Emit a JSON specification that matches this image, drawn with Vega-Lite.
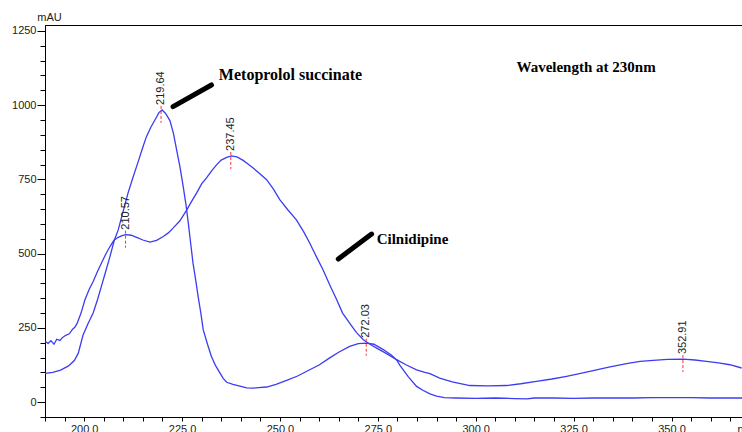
{
  "$schema": "https://vega.github.io/schema/vega-lite/v6.json",
  "autosize": {"type": "none"},
  "padding": {"left": 45, "top": 25, "right": 0, "bottom": 15},
  "width": 697,
  "height": 392,
  "background": "white",
  "config": {
    "view": {"stroke": "black", "strokeWidth": 1},
    "axis": {"grid": false, "domainColor": "black", "tickColor": "black", "labelFont": "Liberation Sans", "labelFontSize": 11, "labelColor": "#222", "titleFont": "Liberation Sans", "titleFontSize": 11, "titleFontWeight": "normal", "titleColor": "#222"}
  },
  "datasets": {
    "curves": [
      {"wl": 190, "v": 97, "s": "Metoprolol"}, {"wl": 192, "v": 100, "s": "Metoprolol"}, {"wl": 194, "v": 108, "s": "Metoprolol"}, {"wl": 196, "v": 122, "s": "Metoprolol"}, {"wl": 197.5, "v": 140, "s": "Metoprolol"}, {"wl": 198.5, "v": 165, "s": "Metoprolol"}, {"wl": 199.7, "v": 225, "s": "Metoprolol"}, {"wl": 201, "v": 265, "s": "Metoprolol"}, {"wl": 202.3, "v": 300, "s": "Metoprolol"}, {"wl": 203.4, "v": 345, "s": "Metoprolol"}, {"wl": 204.4, "v": 390, "s": "Metoprolol"}, {"wl": 205.5, "v": 440, "s": "Metoprolol"}, {"wl": 206.6, "v": 491, "s": "Metoprolol"}, {"wl": 207.7, "v": 545, "s": "Metoprolol"}, {"wl": 208.7, "v": 580, "s": "Metoprolol"}, {"wl": 210, "v": 645, "s": "Metoprolol"}, {"wl": 211.2, "v": 704, "s": "Metoprolol"}, {"wl": 212.5, "v": 758, "s": "Metoprolol"}, {"wl": 213.8, "v": 810, "s": "Metoprolol"}, {"wl": 214.9, "v": 855, "s": "Metoprolol"}, {"wl": 215.9, "v": 894, "s": "Metoprolol"}, {"wl": 217, "v": 925, "s": "Metoprolol"}, {"wl": 218.1, "v": 951, "s": "Metoprolol"}, {"wl": 219.1, "v": 975, "s": "Metoprolol"}, {"wl": 219.9, "v": 984, "s": "Metoprolol"}, {"wl": 220.8, "v": 972, "s": "Metoprolol"}, {"wl": 221.9, "v": 948, "s": "Metoprolol"}, {"wl": 222.8, "v": 905, "s": "Metoprolol"}, {"wl": 223.6, "v": 850, "s": "Metoprolol"}, {"wl": 224.5, "v": 790, "s": "Metoprolol"}, {"wl": 225.3, "v": 726, "s": "Metoprolol"}, {"wl": 226, "v": 665, "s": "Metoprolol"}, {"wl": 226.6, "v": 603, "s": "Metoprolol"}, {"wl": 227.2, "v": 535, "s": "Metoprolol"}, {"wl": 227.8, "v": 468, "s": "Metoprolol"}, {"wl": 228.5, "v": 410, "s": "Metoprolol"}, {"wl": 229.1, "v": 356, "s": "Metoprolol"}, {"wl": 229.8, "v": 300, "s": "Metoprolol"}, {"wl": 230.4, "v": 244, "s": "Metoprolol"}, {"wl": 231.5, "v": 195, "s": "Metoprolol"}, {"wl": 232.5, "v": 154, "s": "Metoprolol"}, {"wl": 233.6, "v": 122, "s": "Metoprolol"}, {"wl": 234.7, "v": 98, "s": "Metoprolol"}, {"wl": 235.5, "v": 80, "s": "Metoprolol"}, {"wl": 236.4, "v": 67, "s": "Metoprolol"}, {"wl": 238, "v": 60, "s": "Metoprolol"}, {"wl": 239.5, "v": 55, "s": "Metoprolol"}, {"wl": 241.5, "v": 48, "s": "Metoprolol"}, {"wl": 243, "v": 47, "s": "Metoprolol"}, {"wl": 244.5, "v": 49, "s": "Metoprolol"}, {"wl": 246.6, "v": 51, "s": "Metoprolol"}, {"wl": 249, "v": 60, "s": "Metoprolol"}, {"wl": 251.7, "v": 73, "s": "Metoprolol"}, {"wl": 254.5, "v": 88, "s": "Metoprolol"}, {"wl": 257.6, "v": 109, "s": "Metoprolol"}, {"wl": 260, "v": 125, "s": "Metoprolol"}, {"wl": 262.7, "v": 149, "s": "Metoprolol"}, {"wl": 265, "v": 168, "s": "Metoprolol"}, {"wl": 267.8, "v": 188, "s": "Metoprolol"}, {"wl": 270, "v": 197, "s": "Metoprolol"}, {"wl": 272.1, "v": 199, "s": "Metoprolol"}, {"wl": 274, "v": 195, "s": "Metoprolol"}, {"wl": 276.4, "v": 177, "s": "Metoprolol"}, {"wl": 278.5, "v": 158, "s": "Metoprolol"}, {"wl": 279.8, "v": 142, "s": "Metoprolol"}, {"wl": 280.6, "v": 125, "s": "Metoprolol"}, {"wl": 282.8, "v": 85, "s": "Metoprolol"}, {"wl": 284.9, "v": 53, "s": "Metoprolol"}, {"wl": 286.5, "v": 40, "s": "Metoprolol"}, {"wl": 288.3, "v": 28, "s": "Metoprolol"}, {"wl": 290, "v": 20, "s": "Metoprolol"}, {"wl": 292, "v": 15, "s": "Metoprolol"}, {"wl": 295, "v": 14, "s": "Metoprolol"}, {"wl": 300, "v": 13, "s": "Metoprolol"}, {"wl": 305, "v": 14, "s": "Metoprolol"}, {"wl": 310, "v": 12, "s": "Metoprolol"}, {"wl": 313, "v": 11, "s": "Metoprolol"}, {"wl": 315, "v": 14, "s": "Metoprolol"}, {"wl": 320, "v": 14, "s": "Metoprolol"}, {"wl": 325, "v": 13, "s": "Metoprolol"}, {"wl": 330, "v": 14, "s": "Metoprolol"}, {"wl": 340, "v": 14, "s": "Metoprolol"}, {"wl": 345, "v": 15, "s": "Metoprolol"}, {"wl": 350, "v": 15, "s": "Metoprolol"}, {"wl": 355, "v": 15, "s": "Metoprolol"}, {"wl": 360, "v": 14, "s": "Metoprolol"}, {"wl": 368, "v": 14, "s": "Metoprolol"},
      {"wl": 190, "v": 205, "s": "Cilnidipine"}, {"wl": 190.8, "v": 198, "s": "Cilnidipine"}, {"wl": 191.5, "v": 207, "s": "Cilnidipine"}, {"wl": 192.3, "v": 195, "s": "Cilnidipine"}, {"wl": 193, "v": 212, "s": "Cilnidipine"}, {"wl": 193.8, "v": 208, "s": "Cilnidipine"}, {"wl": 194.5, "v": 218, "s": "Cilnidipine"}, {"wl": 195.3, "v": 225, "s": "Cilnidipine"}, {"wl": 196.2, "v": 230, "s": "Cilnidipine"}, {"wl": 197, "v": 245, "s": "Cilnidipine"}, {"wl": 197.6, "v": 252, "s": "Cilnidipine"}, {"wl": 198.2, "v": 265, "s": "Cilnidipine"}, {"wl": 199.2, "v": 300, "s": "Cilnidipine"}, {"wl": 200.2, "v": 345, "s": "Cilnidipine"}, {"wl": 201.3, "v": 380, "s": "Cilnidipine"}, {"wl": 202.3, "v": 406, "s": "Cilnidipine"}, {"wl": 203.4, "v": 440, "s": "Cilnidipine"}, {"wl": 204.4, "v": 468, "s": "Cilnidipine"}, {"wl": 205.5, "v": 498, "s": "Cilnidipine"}, {"wl": 206.6, "v": 524, "s": "Cilnidipine"}, {"wl": 207.6, "v": 545, "s": "Cilnidipine"}, {"wl": 208.7, "v": 555, "s": "Cilnidipine"}, {"wl": 209.7, "v": 561, "s": "Cilnidipine"}, {"wl": 210.6, "v": 564, "s": "Cilnidipine"}, {"wl": 212, "v": 562, "s": "Cilnidipine"}, {"wl": 213.4, "v": 555, "s": "Cilnidipine"}, {"wl": 215, "v": 546, "s": "Cilnidipine"}, {"wl": 216.8, "v": 539, "s": "Cilnidipine"}, {"wl": 218.5, "v": 545, "s": "Cilnidipine"}, {"wl": 220.2, "v": 558, "s": "Cilnidipine"}, {"wl": 221.5, "v": 570, "s": "Cilnidipine"}, {"wl": 222.7, "v": 586, "s": "Cilnidipine"}, {"wl": 224.4, "v": 610, "s": "Cilnidipine"}, {"wl": 226.1, "v": 645, "s": "Cilnidipine"}, {"wl": 227.4, "v": 675, "s": "Cilnidipine"}, {"wl": 228.7, "v": 704, "s": "Cilnidipine"}, {"wl": 230, "v": 735, "s": "Cilnidipine"}, {"wl": 231.3, "v": 756, "s": "Cilnidipine"}, {"wl": 232.5, "v": 778, "s": "Cilnidipine"}, {"wl": 233.8, "v": 799, "s": "Cilnidipine"}, {"wl": 235, "v": 815, "s": "Cilnidipine"}, {"wl": 236.4, "v": 824, "s": "Cilnidipine"}, {"wl": 237.6, "v": 829, "s": "Cilnidipine"}, {"wl": 239, "v": 826, "s": "Cilnidipine"}, {"wl": 240.5, "v": 815, "s": "Cilnidipine"}, {"wl": 241.5, "v": 805, "s": "Cilnidipine"}, {"wl": 243, "v": 790, "s": "Cilnidipine"}, {"wl": 244.8, "v": 770, "s": "Cilnidipine"}, {"wl": 246.6, "v": 749, "s": "Cilnidipine"}, {"wl": 248.3, "v": 718, "s": "Cilnidipine"}, {"wl": 250, "v": 681, "s": "Cilnidipine"}, {"wl": 252, "v": 648, "s": "Cilnidipine"}, {"wl": 254.2, "v": 614, "s": "Cilnidipine"}, {"wl": 256, "v": 575, "s": "Cilnidipine"}, {"wl": 257.6, "v": 536, "s": "Cilnidipine"}, {"wl": 259.3, "v": 490, "s": "Cilnidipine"}, {"wl": 261, "v": 446, "s": "Cilnidipine"}, {"wl": 262.7, "v": 395, "s": "Cilnidipine"}, {"wl": 264.5, "v": 345, "s": "Cilnidipine"}, {"wl": 266, "v": 300, "s": "Cilnidipine"}, {"wl": 267.8, "v": 266, "s": "Cilnidipine"}, {"wl": 269.5, "v": 235, "s": "Cilnidipine"}, {"wl": 271.3, "v": 210, "s": "Cilnidipine"}, {"wl": 273, "v": 195, "s": "Cilnidipine"}, {"wl": 274.7, "v": 182, "s": "Cilnidipine"}, {"wl": 277, "v": 165, "s": "Cilnidipine"}, {"wl": 279.8, "v": 143, "s": "Cilnidipine"}, {"wl": 282.3, "v": 125, "s": "Cilnidipine"}, {"wl": 284.9, "v": 109, "s": "Cilnidipine"}, {"wl": 287, "v": 100, "s": "Cilnidipine"}, {"wl": 288.3, "v": 96, "s": "Cilnidipine"}, {"wl": 290.8, "v": 81, "s": "Cilnidipine"}, {"wl": 294, "v": 68, "s": "Cilnidipine"}, {"wl": 298.5, "v": 56, "s": "Cilnidipine"}, {"wl": 303, "v": 55, "s": "Cilnidipine"}, {"wl": 307.9, "v": 56, "s": "Cilnidipine"}, {"wl": 311.5, "v": 62, "s": "Cilnidipine"}, {"wl": 315.5, "v": 70, "s": "Cilnidipine"}, {"wl": 319.5, "v": 78, "s": "Cilnidipine"}, {"wl": 323.2, "v": 87, "s": "Cilnidipine"}, {"wl": 326.5, "v": 96, "s": "Cilnidipine"}, {"wl": 330, "v": 106, "s": "Cilnidipine"}, {"wl": 334, "v": 118, "s": "Cilnidipine"}, {"wl": 338.5, "v": 130, "s": "Cilnidipine"}, {"wl": 342, "v": 137, "s": "Cilnidipine"}, {"wl": 345.3, "v": 141, "s": "Cilnidipine"}, {"wl": 349, "v": 144, "s": "Cilnidipine"}, {"wl": 353, "v": 145, "s": "Cilnidipine"}, {"wl": 356, "v": 142, "s": "Cilnidipine"}, {"wl": 358.9, "v": 137, "s": "Cilnidipine"}, {"wl": 362, "v": 132, "s": "Cilnidipine"}, {"wl": 364.9, "v": 126, "s": "Cilnidipine"}, {"wl": 367.9, "v": 115, "s": "Cilnidipine"}
    ],
    "peaks": [
      {"wl": 210.57, "v": 564, "label": "210.57"},
      {"wl": 219.64, "v": 984, "label": "219.64"},
      {"wl": 237.45, "v": 829, "label": "237.45"},
      {"wl": 272.03, "v": 200, "label": "272.03"},
      {"wl": 352.91, "v": 145, "label": "352.91"}
    ],
    "notes": [
      {"wl": 234.4, "v": 1102, "text": "Metoprolol succinate", "size": 16},
      {"wl": 274.7, "v": 549, "text": "Cilnidipine", "size": 15},
      {"wl": 310.4, "v": 1128, "text": "Wavelength at 230nm", "size": 15}
    ],
    "pointers": [
      {"wl": 222.7, "v": 995, "wl2": 232.5, "v2": 1068},
      {"wl": 264.9, "v": 482, "wl2": 273.4, "v2": 566}
    ]
  },
  "layer": [
    {
      "data": {"name": "curves"},
      "mark": {"type": "line", "color": "#3c3cf2", "strokeWidth": 1.3, "clip": true},
      "encoding": {
        "x": {"field": "wl", "type": "quantitative", "scale": {"domain": [190, 368], "nice": false, "zero": false},
          "axis": {"values": [190,195,200,205,210,215,220,225,230,235,240,245,250,255,260,265,270,275,280,285,290,295,300,305,310,315,320,325,330,335,340,345,350,355,360,365],
            "tickCount": 200,
            "labelExpr": "datum.value % 25 === 0 ? format(datum.value, '.1f') : ''", "tickSize": 4, "labelPadding": 2, "labelFlush": false, "labelOverlap": false,
            "title": "nm", "titleAnchor": "start", "titleAlign": "left", "titleBaseline": "middle", "titleX": 692, "titleY": 12}},
        "y": {"field": "v", "type": "quantitative", "scale": {"domain": [-50, 1270], "nice": false, "zero": false},
          "axis": {"values": [-50,0,50,100,150,200,250,300,350,400,450,500,550,600,650,700,750,800,850,900,950,1000,1050,1100,1150,1200,1250],
            "tickCount": 200,
            "format": "d", "labelExpr": "datum.value % 250 === 0 ? datum.label : ''",
            "tickSize": {"condition": {"test": "datum.value % 250 === 0", "value": 8}, "value": 5},
            "labelPadding": 1, "labelFlush": false, "labelOverlap": false,
            "title": "mAU", "titleAngle": 0, "titleAlign": "center", "titleBaseline": "middle", "titleX": 4, "titleY": -8}},
        "detail": {"field": "s"}
      }
    },
    {
      "data": {"name": "peaks"},
      "mark": {"type": "rule", "color": "#ff3030", "strokeWidth": 1, "strokeDash": [3, 2], "yOffset": -4, "y2Offset": 13},
      "encoding": {
        "x": {"field": "wl", "type": "quantitative"},
        "y": {"field": "v", "type": "quantitative"},
        "y2": {"field": "v"}
      }
    },
    {
      "data": {"name": "peaks"},
      "mark": {"type": "text", "angle": 270, "align": "left", "baseline": "middle", "dx": 5, "font": "Liberation Sans", "fontSize": 11, "color": "#222"},
      "encoding": {
        "x": {"field": "wl", "type": "quantitative"},
        "y": {"field": "v", "type": "quantitative"},
        "text": {"field": "label"}
      }
    },
    {
      "data": {"name": "pointers"},
      "mark": {"type": "rule", "color": "black", "strokeWidth": 5, "strokeCap": "round"},
      "encoding": {
        "x": {"field": "wl", "type": "quantitative"},
        "y": {"field": "v", "type": "quantitative"},
        "x2": {"field": "wl2"},
        "y2": {"field": "v2"}
      }
    },
    {
      "data": {"name": "notes"},
      "mark": {"type": "text", "align": "left", "baseline": "middle", "font": "Liberation Serif", "fontWeight": "bold", "color": "black"},
      "encoding": {
        "x": {"field": "wl", "type": "quantitative"},
        "y": {"field": "v", "type": "quantitative"},
        "text": {"field": "text"},
        "size": {"field": "size", "type": "quantitative", "scale": null, "legend": null}
      }
    }
  ]
}
